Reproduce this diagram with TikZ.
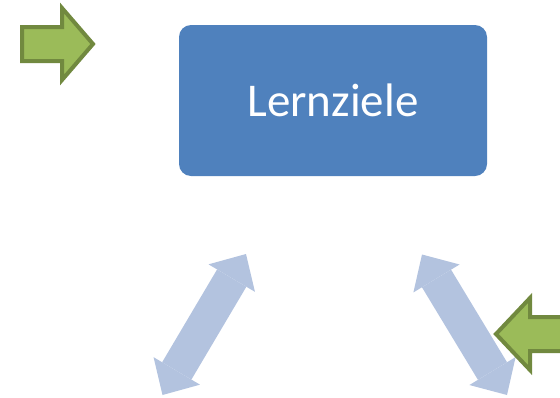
\documentclass[tikz,border=0pt]{standalone}
\usepackage{fontspec}
\newfontfamily\calibri{Carlito}
\usepackage{tikz}
\usetikzlibrary{arrows.meta}
\definecolor{BlauBox}{HTML}{4F81BD}
\definecolor{BlauPfeil}{HTML}{B3C3DF}
\definecolor{GruenFill}{HTML}{9BBB59}
\definecolor{GruenRand}{HTML}{71893F}

\tikzset{
  zielbox/.style = {fill = BlauBox, rounded corners = 12pt, minimum width = 308pt,
    minimum height = 151pt, text = white, font = \calibri\fontsize{47}{52}\selectfont},
  wechsel/.style = {line width = 34pt, draw = BlauPfeil,
    {Triangle[width = 54pt, length = 28pt, line width = 0pt]}-{Triangle[width = 54pt, length = 28pt, line width = 0pt]}},
  hinweis/.style = {fill = GruenFill, draw = GruenRand, line width = 4pt, line join = miter}
}

\begin{document}
\begin{tikzpicture}[x = 1pt, y = -1pt]
  \useasboundingbox (0,0) rectangle (560,397);
  \clip (0,0) rectangle (560,397);

  % box
  \node[zielbox] (ziele) at (333,100.5) {Lernziele};

  % double arrows
  \coordinate (links-oben) at (246,254);
  \coordinate (links-unten) at (162.5,395);
  \coordinate (rechts-oben) at (422,254.5);
  \coordinate (rechts-unten) at (507,395);
  \draw[wechsel] (links-unten) -- (links-oben);
  \draw[wechsel] (rechts-oben) -- (rechts-unten);

  % green arrows
\begin{scope}[shift = {(93,44)}]
    \draw[hinweis] (-71,-17) -- (-31,-17) -- (-31,-36) -- (0,0) -- (-31,36) -- (-31,17) -- (-71,17) -- cycle;
\end{scope}
\begin{scope}[shift = {(496,334)}, xscale = -1]
    \draw[hinweis] (-80,-17) -- (-34,-17) -- (-34,-36) -- (0,0) -- (-34,36) -- (-34,17) -- (-80,17) -- cycle;
\end{scope}
\end{tikzpicture}
\end{document}
